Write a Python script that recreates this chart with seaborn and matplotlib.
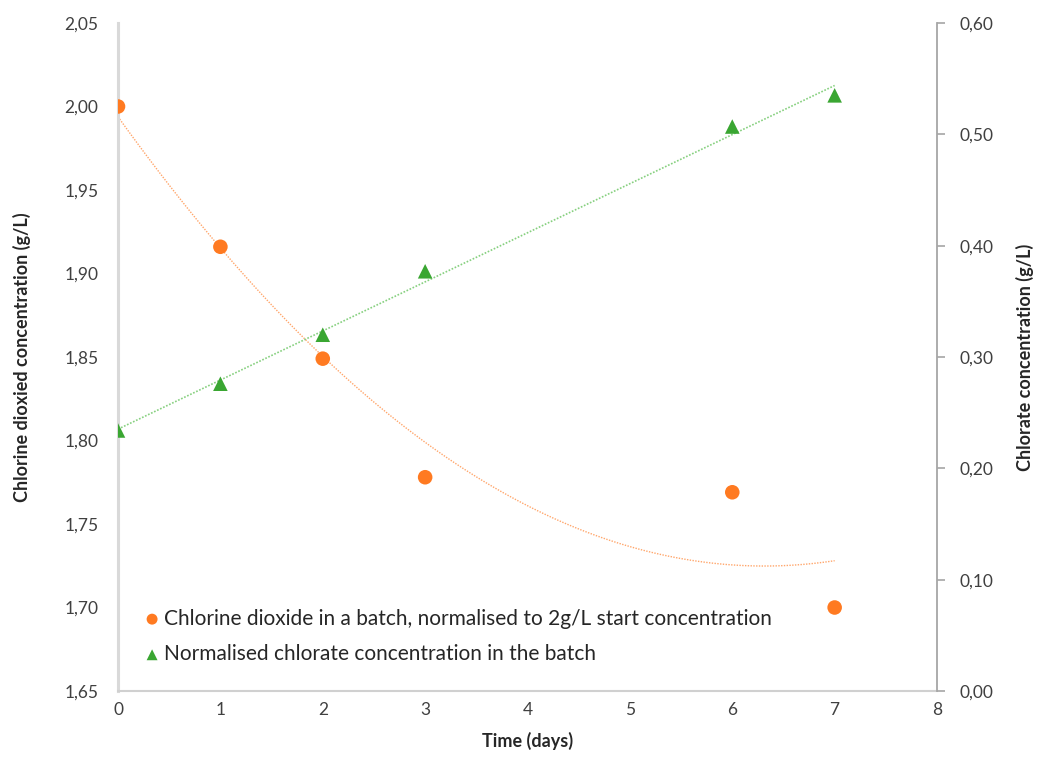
import numpy as np
import pandas as pd
import seaborn as sns
import matplotlib.pyplot as plt
from matplotlib.ticker import FuncFormatter

# ========== DATA ==========
days_clo2 = [0, 1, 2, 3, 6, 7]
clo2 = [2.000, 1.916, 1.849, 1.778, 1.769, 1.700]

days_chlorate = [0, 1, 2, 3, 6, 7]
chlorate = [0.234, 0.276, 0.320, 0.377, 0.507, 0.535]

label_clo2 = "Chlorine dioxide in a batch, normalised to 2g/L start concentration"
label_chlorate = "Normalised chlorate concentration in the batch"

df1 = pd.DataFrame({"day": days_clo2, "conc": clo2})
df2 = pd.DataFrame({"day": days_chlorate, "conc": chlorate})

# ========== STYLE ==========
sns.set_theme(style="white")
plt.rcParams["font.family"] = ["Lato", "DejaVu Sans"]

ORANGE = "#FF7A21"
GREEN = "#3AA632"
TEXT = "#404040"

fig = plt.figure(figsize=(10.37, 7.66), dpi=100)
ax = fig.add_axes([0.1138, 0.0979, 0.7898, 0.8721])
ax2 = ax.twinx()

# trendlines (poly order 2 for ClO2, linear for chlorate)
sns.regplot(data=df1, x="day", y="conc", order=2, ci=None, scatter=False, truncate=True,
            ax=ax, line_kws=dict(color="#FFA66B", lw=1.0, ls=(0, (1, 1))))
sns.regplot(data=df2, x="day", y="conc", order=1, ci=None, scatter=False, truncate=True,
            ax=ax2, line_kws=dict(color="#86D07F", lw=1.2, ls=(0, (1, 1))))

# points
sns.scatterplot(data=df1, x="day", y="conc", ax=ax, color=ORANGE, marker="o", s=110,
                edgecolor="none", label=label_clo2, legend=False, zorder=5)
sns.scatterplot(data=df2, x="day", y="conc", ax=ax2, color=GREEN, marker="^", s=110,
                edgecolor="none", label=label_chlorate, legend=False, zorder=5)

# ========== AXES ==========
comma = FuncFormatter(lambda v, p: f"{v:.2f}".replace(".", ","))

ax.set_xlim(0, 8)
ax.set_xticks(range(0, 9))
ax.set_ylim(1.65, 2.05)
ax.set_yticks(np.arange(1.65, 2.051, 0.05))
ax.yaxis.set_major_formatter(comma)

ax2.set_ylim(0, 0.60)
ax2.set_yticks(np.arange(0, 0.601, 0.1))
ax2.yaxis.set_major_formatter(comma)

for a in (ax, ax2):
    a.spines["top"].set_visible(False)
    a.tick_params(labelsize=12.5, colors=TEXT)
    a.grid(False)

ax.spines["right"].set_visible(False)
ax.spines["left"].set_color("#D9D9D9")
ax.spines["left"].set_linewidth(2.2)
ax.spines["bottom"].set_color("#D0D0D0")
ax.spines["bottom"].set_linewidth(1.5)
ax.tick_params(axis="both", length=0, pad=8)
ax.tick_params(axis="y", pad=14)

ax2.spines["left"].set_visible(False)
ax2.spines["bottom"].set_visible(False)
ax2.spines["right"].set_color("#A6A6A6")
ax2.spines["right"].set_linewidth(1.3)
ax2.tick_params(axis="y", direction="out", length=6, width=1.2, color="#A6A6A6", pad=10)

ax.set_xlabel("Time (days)", fontsize=13, fontweight="bold", color="#262626", labelpad=10)
ax.set_ylabel("Chlorine dioxied concentration (g/L)", fontsize=13, fontweight="bold",
              color="#262626", labelpad=24)
ax2.set_ylabel("Chlorate concentration (g/L)", fontsize=13, fontweight="bold",
               color="#262626", labelpad=16)

h1, l1 = ax.get_legend_handles_labels()
h2, l2 = ax2.get_legend_handles_labels()
leg = ax2.legend(h1 + h2, l1 + l2, loc="lower left", bbox_to_anchor=(0.006, 0.012),
                 frameon=False, fontsize=15, handletextpad=0.05, labelspacing=0.75,
                 markerscale=0.75, handlelength=1.0)
for t in leg.get_texts():
    t.set_color("#262626")

fig.savefig("out.png", dpi=100)
